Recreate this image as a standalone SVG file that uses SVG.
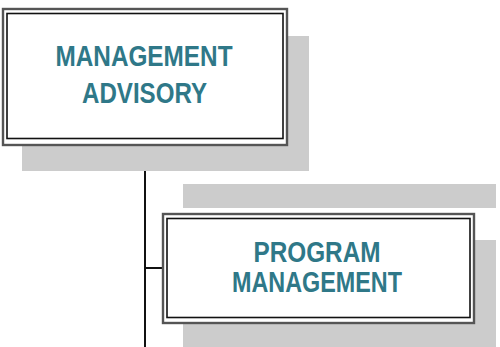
<svg xmlns="http://www.w3.org/2000/svg" width="500" height="347" viewBox="0 0 500 347">
<style>
.shadow{fill:#cccccc;stroke:none}
.outer{fill:#ffffff;stroke:#555555;stroke-width:2.4}
.inner{fill:none;stroke:#111111;stroke-width:1.6}
.lbl{font-family:"Liberation Sans",Arial,sans-serif;font-weight:bold;font-size:29px;fill:#2f7888;text-anchor:middle}
.conn{stroke:#111111;stroke-width:2;fill:none}
</style>
<rect width="500" height="347" fill="#ffffff"/>
<rect class="shadow" x="183" y="184" width="313" height="24"/>
<g id="connectors">
<line class="conn" x1="145" y1="145" x2="145" y2="347"/>
<line class="conn" x1="145" y1="268" x2="163" y2="268"/>
</g>
<g id="management-advisory">
<rect class="shadow" x="22" y="36" width="287" height="135"/>
<rect class="outer" x="3" y="9" width="284" height="136"/>
<rect class="inner" x="7" y="13.5" width="276" height="125"/>
<text class="lbl" x="144" y="66" textLength="177" lengthAdjust="spacingAndGlyphs">MANAGEMENT</text>
<text class="lbl" x="144.5" y="103" textLength="125" lengthAdjust="spacingAndGlyphs">ADVISORY</text>
</g>
<g id="program-management">
<rect class="shadow" x="183" y="240" width="313" height="110"/>
<rect class="outer" x="163" y="214" width="311" height="109"/>
<rect class="inner" x="167" y="218.5" width="303" height="99"/>
<text class="lbl" x="317" y="262" textLength="127" lengthAdjust="spacingAndGlyphs">PROGRAM</text>
<text class="lbl" x="317" y="292" textLength="170" lengthAdjust="spacingAndGlyphs">MANAGEMENT</text>
</g>
</svg>
